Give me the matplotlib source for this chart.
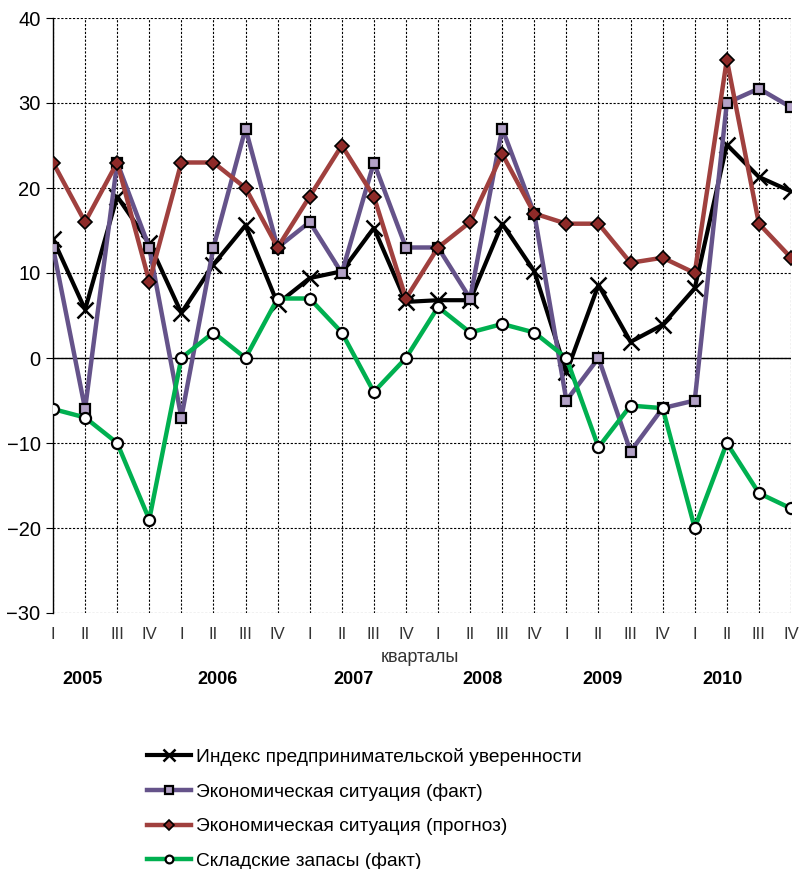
import matplotlib
matplotlib.use("Agg")
import matplotlib.pyplot as plt
import numpy as np

plt.rcParams["font.family"] = ["Liberation Sans", "DejaVu Sans"]

quarters = ["I", "II", "III", "IV"] * 6
years = ["2005", "2006", "2007", "2008", "2009", "2010"]
year_pos = [0.93, 5.14, 9.38, 13.4, 17.14, 20.85]

index_conf = [14, 5.7, 19, 13.5, 5.3, 11, 15.6, 6.4, 9.4, 10.2, 15.3, 6.6,
              6.8, 6.8, 15.8, 10.2, -1.7, 8.6, 1.9, 3.9, 8.2, 25.1, 21.3, 19.6]
econ_fact = [13, -6, 23, 13, -7, 13, 27, 13, 16, 10, 23, 13,
             13, 7, 27, 17, -5, 0, -11, -5.9, -5, 30, 31.7, 29.5]
econ_forecast = [23, 16, 23, 9, 23, 23, 20, 13, 19, 25, 19, 7,
                 13, 16, 24, 17, 15.8, 15.8, 11.2, 11.8, 10, 35.1, 15.8, 11.8]
stocks = [-6, -7, -10, -19, 0, 3, 0, 7, 7, 3, -4, 0,
          6, 3, 4, 3, 0, -10.5, -5.6, -5.9, -20, -10, -15.9, -17.7]

labels = ["Индекс предпринимательской уверенности",
          "Экономическая ситуация (факт)",
          "Экономическая ситуация (прогноз)",
          "Складские запасы (факт)"]

fig = plt.figure(figsize=(8, 8.69), dpi=100)
ax = fig.add_axes([53 / 800, 1 - 613 / 869, (791 - 53) / 800, (613 - 18) / 869])

x = np.arange(len(quarters))

ax.plot(x, index_conf, color="black", lw=3, marker="x", ms=12, mew=1.8,
        mec="black", label=labels[0], zorder=3)
ax.plot(x, econ_fact, color="#65538A", lw=3.2, marker="s", ms=7.5, mew=1.6,
        mfc="#B3A2C7", mec="black", label=labels[1], zorder=4)
ax.plot(x, econ_forecast, color="#A0403E", lw=3.2, marker="D", ms=7, mew=1.2,
        mfc="#8E2A28", mec="black", label=labels[2], zorder=5)
ax.plot(x, stocks, color="#00B050", lw=3.2, marker="o", ms=8, mew=1.6,
        mfc="white", mec="black", label=labels[3], zorder=6)

ax.set_xlim(0, len(quarters) - 1)
ax.set_ylim(-30, 40)
ax.set_yticks(np.arange(-30, 41, 10))
ax.set_xticks(x)
ax.set_xticklabels(quarters, fontsize=12, color="#333333")
ax.tick_params(axis="x", length=0, pad=10)
ax.tick_params(axis="y", labelsize=14.5, length=5, direction="out", pad=4)

ax.grid(True, color="black", ls=(0, (2, 1.5)), lw=0.8)
ax.axhline(0, color="black", lw=1, zorder=2)
for side in ["top", "right", "bottom"]:
    ax.spines[side].set_visible(False)
ax.spines["left"].set_linewidth(1)

fig.text(420 / 800, 1 - 658 / 869, "кварталы", ha="center", va="center",
         fontsize=13, color="#333333")
for pos, yr in zip(year_pos, years):
    xd = ax.transData.transform((pos, 0))[0] / fig.dpi / fig.get_figwidth()
    fig.text(xd, 1 - 680 / 869, yr, ha="center", va="center",
             fontsize=13, fontweight="bold")

fig.legend(loc="upper left", bbox_to_anchor=(147 / 800, 1 - 748 / 869),
           frameon=False, fontsize=13.8, handlelength=2.3, handletextpad=0.25,
           labelspacing=0.9, markerscale=0.7, borderpad=0, borderaxespad=0)

fig.savefig("out.png", dpi=100)
